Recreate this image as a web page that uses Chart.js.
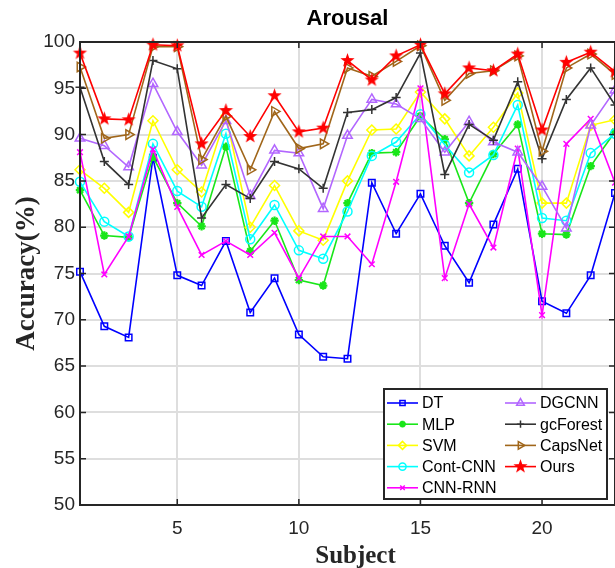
<!DOCTYPE html>
<html>
<head>
<meta charset="utf-8">
<script src="https://cdn.jsdelivr.net/npm/chart.js@4.4.1/dist/chart.umd.min.js"></script>
<style>
  html, body { margin: 0; padding: 0; background: #fff; }
  #wrap { width: 615px; height: 568px; }
</style>
</head>
<body>
<div id="wrap"><canvas id="chart" width="615" height="568"></canvas></div>
<script>
// ── Datos ────────────────────────────────────────────────────────────
const SUBJECTS = [1,2,3,4,5,6,7,8,9,10,11,12,13,14,15,16,17,18,19,20,21,22,23];
const X_TICKS  = [5, 10, 15, 20];
const Y_TICKS  = [50, 55, 60, 65, 70, 75, 80, 85, 90, 95, 100];

const DT       = [75.2,69.3,68.1,87.5,74.8,73.7,78.5,70.8,74.5,68.4,66.0,65.8,84.8,79.3,83.6,78.0,74.0,80.3,86.3,72.0,70.7,74.8,83.7];
const MLP      = [84.0,79.1,78.9,87.6,82.6,80.1,88.7,77.4,80.7,74.3,73.7,82.6,88.0,88.1,92.0,89.5,82.6,87.9,91.1,79.3,79.2,86.6,90.3];
const SVM      = [86.2,84.2,81.6,91.5,86.2,83.8,92.0,80.0,84.5,79.6,78.6,85.0,90.5,90.6,94.6,91.7,87.7,90.8,94.5,82.6,82.6,91.0,91.6];
const CONT_CNN = [84.9,80.6,79.0,89.0,83.9,82.2,90.1,78.7,82.4,77.5,76.6,81.7,87.7,89.2,92.2,88.9,85.9,87.8,93.2,81.0,80.7,88.0,90.1];
const CNN_RNN  = [88.1,74.9,79.0,88.4,82.2,77.0,78.5,77.0,79.4,74.5,79.0,79.0,76.0,84.9,95.0,74.5,82.5,77.8,88.5,70.5,89.0,91.7,84.8];
const DGCNN    = [89.6,88.8,86.5,95.5,90.3,86.7,91.5,83.4,88.3,88.0,82.0,89.9,93.8,93.3,91.7,88.1,91.4,89.2,88.1,84.4,79.9,91.0,94.8];
const GCFOREST = [95.1,87.1,84.6,98.0,97.1,81.0,84.6,83.1,87.1,86.3,84.2,92.4,92.7,94.0,98.8,85.7,91.1,89.4,95.7,87.4,93.8,97.2,93.2];
const CAPSNET  = [97.3,89.6,90.0,99.5,99.5,87.3,92.0,86.2,92.5,88.5,89.0,97.2,96.3,97.9,99.6,93.7,96.6,96.9,98.5,88.2,97.2,98.7,96.5];
const OURS     = [98.8,91.7,91.6,99.7,99.6,89.0,92.6,89.8,94.2,90.3,90.7,98.0,95.9,98.5,99.7,94.4,97.2,96.9,98.7,90.5,97.8,98.9,96.8];

const AXIS_COLOR = '#262626';
const GRID_COLOR = '#dedede';

// estrella de cinco puntas rellena (marcador de "Ours")
function pentagram(outer, inner, color) {
  const size = Math.ceil(outer * 2 + 2);
  const cv = document.createElement('canvas');
  cv.width = cv.height = size;
  const g = cv.getContext('2d');
  const c = size / 2;
  g.beginPath();
  for (let i = 0; i < 10; i++) {
    const r = i % 2 ? inner : outer;
    const a = -Math.PI / 2 + i * Math.PI / 5;
    const px = c + r * Math.cos(a), py = c + r * Math.sin(a);
    i ? g.lineTo(px, py) : g.moveTo(px, py);
  }
  g.closePath();
  g.fillStyle = color;
  g.fill();
  return cv;
}

function series(label, values, color, style, radius, extra = {}) {
  return Object.assign({
    label,
    data: SUBJECTS.map((s, i) => ({ x: s, y: values[i] })),
    borderColor: color,
    backgroundColor: 'rgba(0,0,0,0)',
    borderWidth: 1.6,
    pointStyle: style,
    pointRadius: radius,
    pointBorderColor: color,
    pointBackgroundColor: 'rgba(0,0,0,0)',
    pointBorderWidth: 1.5,
    pointHoverRadius: radius,
    tension: 0,
    clip: false
  }, extra);
}

const datasets = [
  series('DT',       DT,       '#0000ff', 'rect',     4.6, { order: 8 }),
  series('MLP',      MLP,      '#19e619', 'star',     4.2, { order: 7, pointBorderWidth: 2.2 }),
  series('SVM',      SVM,      '#ffff00', 'rectRot',  5,   { order: 6 }),
  series('Cont-CNN', CONT_CNN, '#00ffff', 'circle',   4.5, { order: 5 }),
  series('CNN-RNN',  CNN_RNN,  '#ff00ff', 'crossRot', 4,   { order: 4 }),
  series('DGCNN',    DGCNN,    '#b266ff', 'triangle', 5.5, { order: 3 }),
  series('gcForest', GCFOREST, '#333333', 'cross',    4.5, { order: 2 }),
  series('CapsNet',  CAPSNET,  '#a0661a', 'triangle', 5.5, { order: 1, pointRotation: 90 }),
  series('Ours',     OURS,     '#ff0000', pentagram(7.5, 3, '#ff0000'), 7, { order: 0 })
];

// ── Marco, marcas internas, títulos y leyenda al estilo MATLAB ───────
const frame = {
  id: 'frame',
  afterDraw(chart) {
    const { ctx, chartArea: a, scales } = chart;
    const tl = 6;
    ctx.save();
    ctx.strokeStyle = AXIS_COLOR;
    ctx.lineWidth = 2;
    ctx.strokeRect(a.left, a.top, a.right - a.left, a.bottom - a.top);
    ctx.lineWidth = 1.5;
    ctx.beginPath();
    Y_TICKS.forEach(v => {
      const y = scales.y.getPixelForValue(v);
      ctx.moveTo(a.left, y);  ctx.lineTo(a.left + tl, y);
      ctx.moveTo(a.right, y); ctx.lineTo(a.right - tl, y);
    });
    X_TICKS.forEach(v => {
      const x = scales.x.getPixelForValue(v);
      ctx.moveTo(x, a.bottom); ctx.lineTo(x, a.bottom - tl);
      ctx.moveTo(x, a.top);    ctx.lineTo(x, a.top + tl);
    });
    ctx.stroke();

    // títulos
    const cx = (a.left + a.right) / 2;
    ctx.fillStyle = '#000';
    ctx.textAlign = 'center';
    ctx.textBaseline = 'middle';
    ctx.font = 'bold 22px "Liberation Sans", Arial, sans-serif';
    ctx.fillText('Arousal', cx, 19);
    ctx.fillStyle = AXIS_COLOR;
    ctx.font = 'bold 25px "Liberation Serif", "Times New Roman", serif';
    ctx.fillText('Subject', cx + 8, 557);
    ctx.translate(27, (a.top + a.bottom) / 2);
    ctx.rotate(-Math.PI / 2);
    ctx.font = 'bold 27px "Liberation Serif", "Times New Roman", serif';
    ctx.fillText('Accuracy(%)', 0, 0);
    ctx.restore();

    // leyenda
    const box = { x: 384, y: 389, w: 223, h: 110 };
    ctx.save();
    ctx.fillStyle = '#fff';
    ctx.fillRect(box.x, box.y, box.w, box.h);
    ctx.strokeStyle = AXIS_COLOR;
    ctx.lineWidth = 2;
    ctx.strokeRect(box.x, box.y, box.w, box.h);
    ctx.font = '16px "Liberation Sans", Arial, sans-serif';
    ctx.textAlign = 'left';
    ctx.textBaseline = 'middle';
    chart.data.datasets.forEach((ds, i) => {
      const col = i < 5 ? 0 : 1;
      const row = i < 5 ? i : i - 5;
      const x0 = col ? 505 : 387;
      const y = 403 + row * 21.2;
      ctx.strokeStyle = ds.borderColor;
      ctx.lineWidth = 1.6;
      ctx.beginPath();
      ctx.moveTo(x0, y); ctx.lineTo(x0 + 31, y);
      ctx.stroke();
      ctx.lineWidth = ds.pointBorderWidth;
      ctx.fillStyle = 'rgba(0,0,0,0)';
      Chart.helpers.drawPoint(ctx, {
        pointStyle: ds.pointStyle,
        radius: ds.label === 'Ours' ? 7 : ds.pointRadius * 0.8,
        rotation: ds.pointRotation || 0,
        borderWidth: ds.pointBorderWidth
      }, x0 + 15.5, y);
      ctx.fillStyle = '#000';
      ctx.fillText(ds.label, x0 + 35, y + 1);
    });
    ctx.restore();
  }
};

new Chart(document.getElementById('chart'), {
  type: 'line',
  data: { datasets },
  options: {
    responsive: false,
    animation: false,
    devicePixelRatio: 1,
    layout: { autoPadding: false, padding: { top: 42, right: 0, bottom: 0, left: 0 } },
    plugins: {
      legend: { display: false },
      title: { display: false },
      tooltip: { enabled: false }
    },
    scales: {
      x: {
        type: 'linear',
        min: 1,
        max: 23,
        afterBuildTicks: s => { s.ticks = X_TICKS.map(v => ({ value: v })); },
        afterFit: s => { s.height = 63; s.paddingLeft = 0; s.paddingRight = 0; },
        grid: { color: GRID_COLOR, lineWidth: 2, drawTicks: false },
        border: { display: false },
        ticks: {
          color: AXIS_COLOR,
          padding: 12,
          maxRotation: 0,
          font: { family: '"Liberation Sans", Arial, sans-serif', size: 19 }
        }
      },
      y: {
        min: 50,
        max: 100,
        afterBuildTicks: s => { s.ticks = Y_TICKS.map(v => ({ value: v })); },
        afterFit: s => { s.width = 80; s.paddingTop = 0; s.paddingBottom = 0; },
        grid: { color: GRID_COLOR, lineWidth: 2, drawTicks: false },
        border: { display: false },
        ticks: {
          color: AXIS_COLOR,
          padding: 5,
          font: { family: '"Liberation Sans", Arial, sans-serif', size: 19 }
        }
      }
    }
  },
  plugins: [frame]
});
</script>
</body>
</html>
